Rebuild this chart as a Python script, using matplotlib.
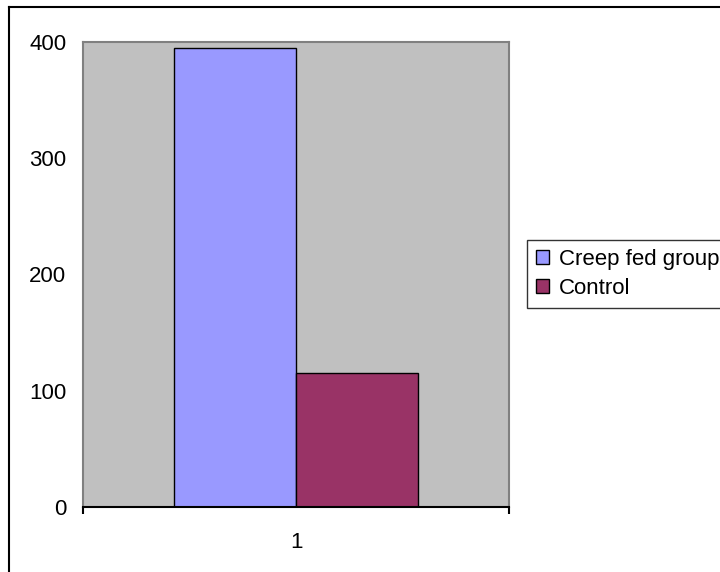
import matplotlib
matplotlib.use("Agg")
import matplotlib.pyplot as plt
from matplotlib.lines import Line2D

plt.rcParams['font.family'] = ['Liberation Sans', 'DejaVu Sans']

categories = ["1"]
series_names = ["Creep fed group", "Control"]
creep_fed = [395]
control = [115]
colors = ["#9999FF", "#993366"]
y_ticks = [0, 100, 200, 300, 400]

fig = plt.figure(figsize=(7.2, 5.72), dpi=100)
ax = fig.add_axes([83 / 720, (572 - 507) / 572, (509 - 83) / 720, (507 - 42) / 572])
ax.set_facecolor("#C0C0C0")

w = 0.286
x = [1]
ax.bar([v - w / 2 for v in x], creep_fed, width=w, color=colors[0],
       edgecolor="black", linewidth=1, label=series_names[0], zorder=3)
ax.bar([v + w / 2 for v in x], control, width=w, color=colors[1],
       edgecolor="black", linewidth=1, label=series_names[1], zorder=3)

ax.set_xlim(0.5, 1.5)
ax.set_ylim(0, 400)
ax.set_yticks(y_ticks)
ax.set_xticks(x)
ax.set_xticklabels(categories)
ax.set_xticks([0.5, 1.5], minor=True)
ax.tick_params(axis='y', length=0, pad=12, labelsize=16)
ax.tick_params(axis='x', which='major', length=0, pad=18, labelsize=16)
ax.tick_params(axis='x', which='minor', length=5, width=1.5, color='black')

for s in ['top', 'left', 'right']:
    ax.spines[s].set_color('#808080')
    ax.spines[s].set_linewidth(1.5)
ax.spines['bottom'].set_color('black')
ax.spines['bottom'].set_linewidth(1.5)
ax.spines['bottom'].set_zorder(4)

# outer chart border (only top and left visible)
fig.add_artist(Line2D([9 / 720, 9 / 720], [0, (572 - 7) / 572], color='black', lw=1.5,
                      transform=fig.transFigure))
fig.add_artist(Line2D([9 / 720, 1], [(572 - 7) / 572, (572 - 7) / 572], color='black', lw=1.5,
                      transform=fig.transFigure))

leg = ax.legend(loc='upper left', bbox_to_anchor=(527 / 720, (572 - 240) / 572),
                bbox_transform=fig.transFigure, fontsize=16, frameon=True,
                fancybox=False, edgecolor='black', borderaxespad=0,
                handlelength=0.6, handleheight=0.6, handletextpad=0.45,
                borderpad=0.4, labelspacing=0.35)
leg.get_frame().set_linewidth(1)

fig.savefig("out.png", dpi=100)
